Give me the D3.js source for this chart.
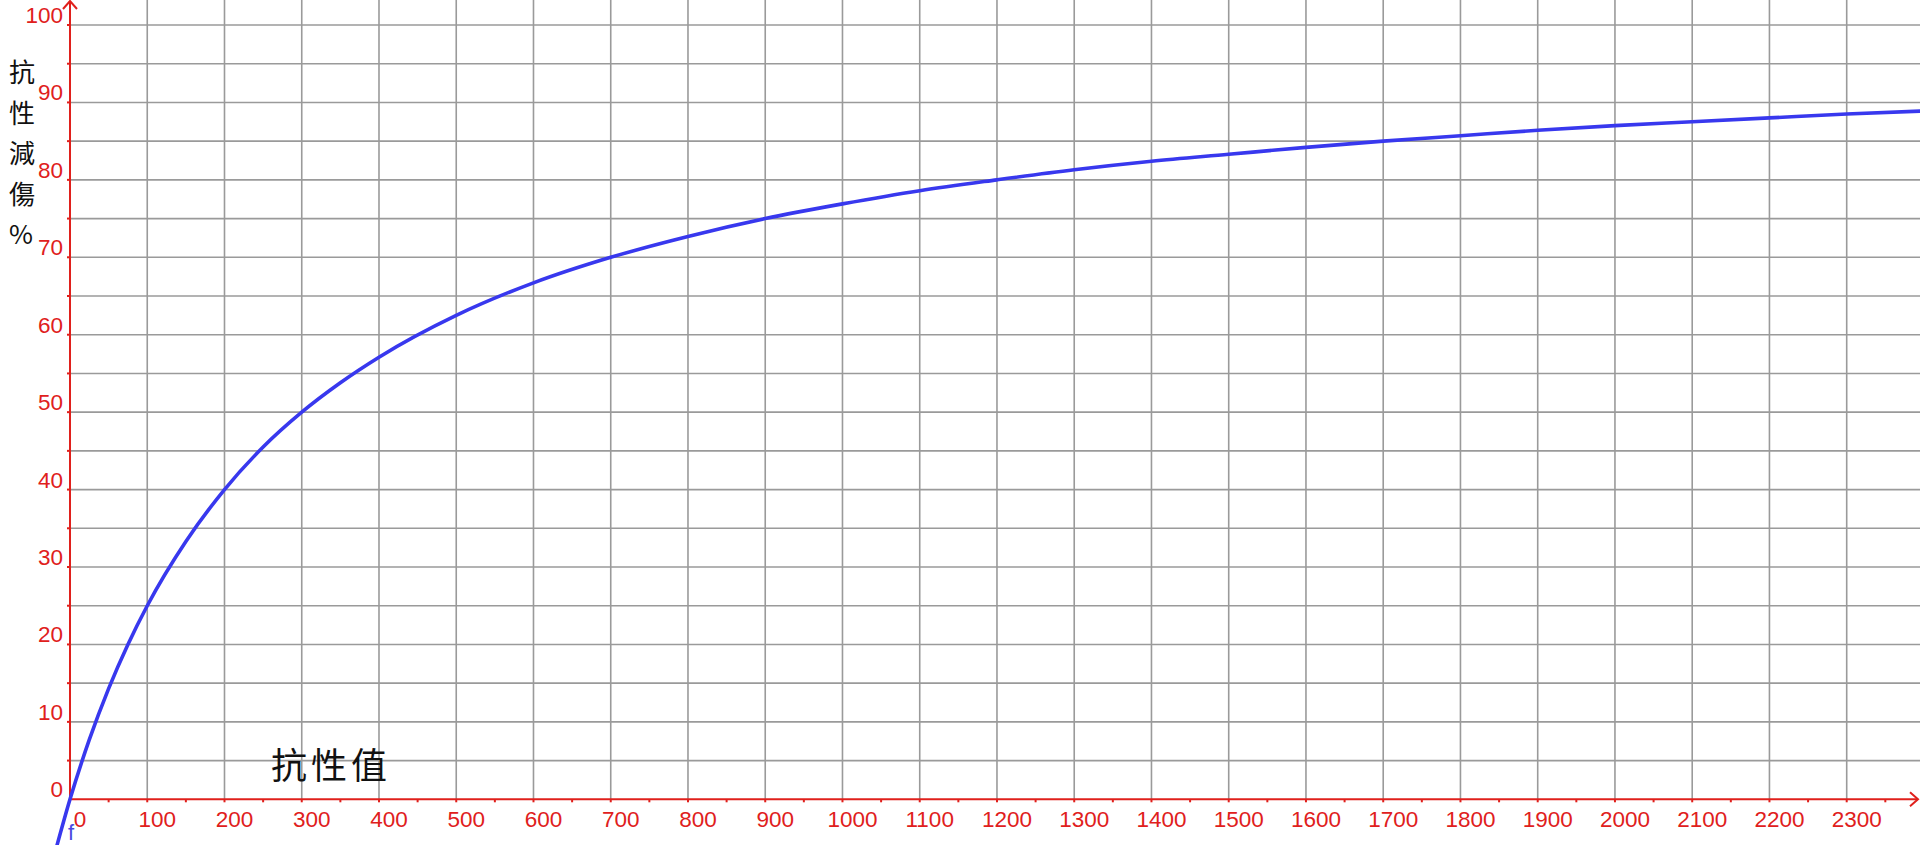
<!DOCTYPE html>
<html>
<head>
<meta charset="utf-8">
<script src="https://cdn.jsdelivr.net/npm/d3@7"></script>
<style>
  body { margin: 0; background: #fff; overflow: hidden; }
  svg { display: block; }
  .tick-label { font-family: "Liberation Sans", Arial, sans-serif; font-size: 22.5px; fill: #e0201c; }
  .title { font-family: "Noto Sans CJK TC", sans-serif; fill: #111; }
</style>
</head>
<body>
<svg id="chart" width="1920" height="845"></svg>
<script>
// values
const resistance = [-20, 0, 25, 50, 75, 100, 150, 200, 250, 300, 350, 400, 500, 600, 700, 800, 900,
    1000, 1100, 1200, 1300, 1400, 1500, 1600, 1700, 1800, 1900, 2000, 2100, 2200, 2300, 2400];
const reduction = [-7.1, 0, 7.7, 14.3, 20, 25, 33.3, 40, 45.5, 50, 53.8, 57.1, 62.5, 66.7, 70, 72.7, 75,
    76.9, 78.6, 80, 81.3, 82.4, 83.3, 84.2, 85, 85.7, 86.4, 87, 87.5, 88, 88.5, 88.9];
const xTicks = d3.range(0, 2301, 100);
const yTicks = d3.range(0, 101, 10);
const yTitle = ['抗', '性', '減', '傷', '%'];
const xTitle = '抗性值';

const W = 1920, H = 845;
const red = '#e0201c', grid = '#9a9a9a', blue = '#3838ee';

const svg = d3.select('#chart');
const x = d3.scaleLinear().domain([0, 2300]).range([70, 1846.7]);
const y = d3.scaleLinear().domain([0, 100]).range([799.3, 25]);

// grid
const g = svg.append('g').attr('stroke', grid).attr('stroke-width', 1.6);
g.selectAll('line.v').data(d3.range(100, 2301, 100)).join('line')
    .attr('x1', d => x(d)).attr('x2', d => x(d)).attr('y1', 0).attr('y2', y(0));
g.selectAll('line.h').data(d3.range(5, 101, 5)).join('line')
    .attr('x1', x(0)).attr('x2', W).attr('y1', d => y(d)).attr('y2', d => y(d));

// axes
const ax = svg.append('g').attr('stroke', red).attr('stroke-width', 2).attr('fill', 'none');
ax.append('line').attr('x1', x(0)).attr('x2', W - 2).attr('y1', y(0)).attr('y2', y(0));
ax.append('line').attr('x1', x(0)).attr('x2', x(0)).attr('y1', y(0)).attr('y2', 1);
ax.append('path').attr('d', `M${W - 10},${y(0) - 7}L${W - 2},${y(0)}L${W - 10},${y(0) + 7}`);
ax.append('path').attr('d', `M${x(0) - 7},9L${x(0)},1L${x(0) + 7},9`);

// minor ticks
ax.selectAll('line.xt').data(d3.range(50, 2400, 50)).join('line')
    .attr('x1', d => x(d)).attr('x2', d => x(d)).attr('y1', y(0)).attr('y2', y(0) + 3);
ax.selectAll('line.yt').data(d3.range(5, 101, 5)).join('line')
    .attr('x1', x(0) - 3).attr('x2', x(0)).attr('y1', d => y(d)).attr('y2', d => y(d));

// tick labels
svg.selectAll('text.xl').data(xTicks).join('text')
    .attr('class', 'tick-label').attr('text-anchor', 'middle')
    .attr('x', d => x(d) + 10).attr('y', 827).text(d => d);
svg.selectAll('text.yl').data(yTicks).join('text')
    .attr('class', 'tick-label').attr('text-anchor', 'end')
    .attr('x', 63).attr('y', d => y(d) - 2).text(d => d);

// curve
const line = d3.line().x((d, i) => x(d)).y((d, i) => y(reduction[i])).curve(d3.curveMonotoneX);
svg.append('path').datum(resistance)
    .attr('d', line).attr('fill', 'none').attr('stroke', blue).attr('stroke-width', 3.6);

svg.append('text').attr('x', 68).attr('y', 840)
    .attr('font-family', 'Liberation Sans, Arial, sans-serif').attr('font-size', 22)
    .attr('fill', '#4a4ae0').text('f');

// titles
svg.selectAll('text.yt').data(yTitle).join('text')
    .attr('class', 'title').attr('font-size', 26)
    .attr('x', 9).attr('y', (d, i) => 82 + i * 40.5).text(d => d);
svg.append('text').attr('class', 'title').attr('font-size', 36)
    .attr('x', 271).attr('y', 779).attr('letter-spacing', 4).text(xTitle);
</script>
</body>
</html>
